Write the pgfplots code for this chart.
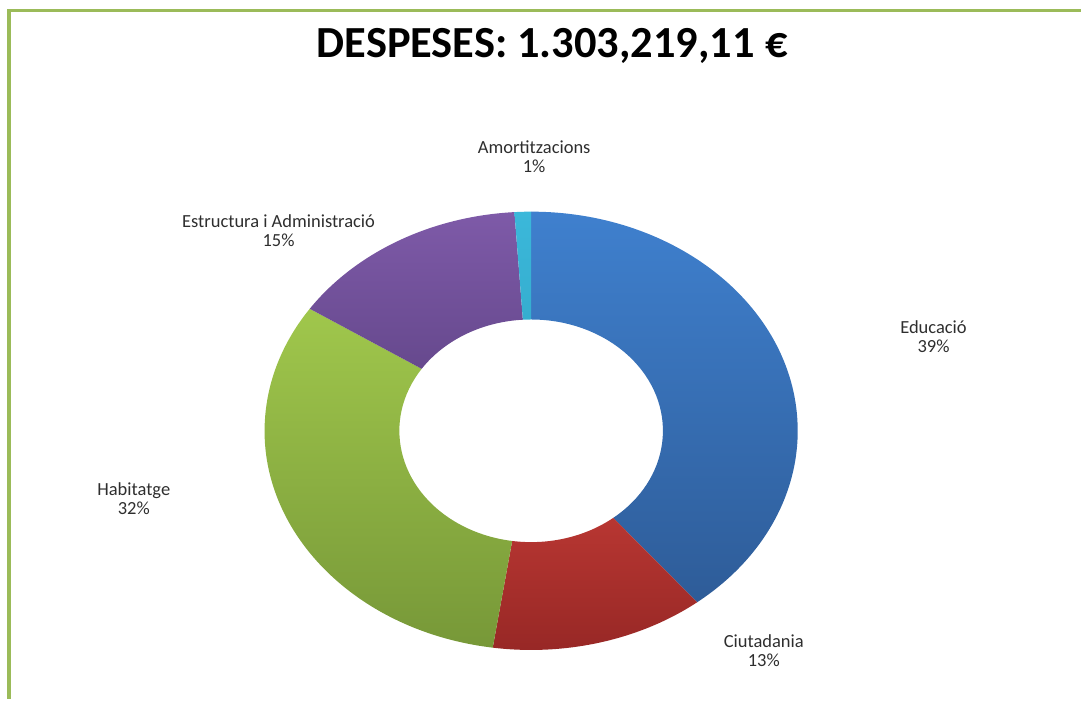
\documentclass[border=0pt]{standalone}
\usepackage{pgfplots}
\pgfplotsset{compat=1.18}
\usepackage{pgfplotstable}
\usepackage{fontspec}
\setmainfont{Carlito}

\definecolor{frame}{HTML}{9BBB59}
\definecolor{eduT}{HTML}{3F80CE}\definecolor{eduB}{HTML}{2E5C98}
\definecolor{ciuT}{HTML}{CD403A}\definecolor{ciuB}{HTML}{962725}
\definecolor{habT}{HTML}{A0C74C}\definecolor{habB}{HTML}{779838}
\definecolor{estT}{HTML}{7E5AA8}\definecolor{estB}{HTML}{5D4283}
\definecolor{amoT}{HTML}{3BB8DA}\definecolor{amoB}{HTML}{2FA3C4}

% share of each item, in percent (clockwise from the top)
\pgfplotstableread{
item value
Educacio 39.3
Ciutadania 13.0
Habitatge 32.1
Estructura 14.6
Amortitzacions 1.0
}\despeses

\pgfmathsetmacro\aA{90}
\pgfplotstablegetelem{0}{value}\of\despeses \pgfmathsetmacro\aB{\aA-3.6*\pgfplotsretval}
\pgfplotstablegetelem{1}{value}\of\despeses \pgfmathsetmacro\aC{\aB-3.6*\pgfplotsretval}
\pgfplotstablegetelem{2}{value}\of\despeses \pgfmathsetmacro\aD{\aC-3.6*\pgfplotsretval}
\pgfplotstablegetelem{3}{value}\of\despeses \pgfmathsetmacro\aE{\aD-3.6*\pgfplotsretval}
\pgfplotstablegetelem{4}{value}\of\despeses \pgfmathsetmacro\aF{\aE-3.6*\pgfplotsretval}

% one ring slice from angle #1 down to angle #2
\newcommand\slice[4]{%
  \shade[top color=#3, bottom color=#4]
    (axis cs:532,431.5) ++(#1:267pt and 219.5pt)
    arc[start angle=#1, end angle=#2, x radius=267pt, y radius=219.5pt]
    -- ([shift={(#2:132pt and 111.5pt)}]axis cs:532,431.5)
    arc[start angle=#2, end angle=#1, x radius=132pt, y radius=111.5pt]
    -- cycle;}

\begin{document}
\begin{tikzpicture}[lbl/.style={font=\fontsize{18.5}{19}\selectfont, align=center, text=black!82}]
\begin{axis}[
  width=1083pt, height=700pt, scale only axis,
  xmin=0, xmax=1083, ymin=0, ymax=700, y dir=reverse,
  hide axis, clip=false,
]
\path (rel axis cs:0,0) rectangle (rel axis cs:1,1);
\draw[frame, line width=3.5pt] (axis cs:9,700) -- (axis cs:9,10.5) -- (axis cs:1083,10.5);

\slice{\aA}{\aB}{eduT}{eduB}
\slice{\aB}{\aC}{ciuT}{ciuB}
\slice{\aC}{\aD}{habT}{habB}
\slice{\aD}{\aE}{estT}{estB}
\slice{\aE}{\aF}{amoT}{amoB}

\node[font=\bfseries\fontsize{44.5}{48}\selectfont] at (axis cs:553,46) {DESPESES: 1.303,219,11 €};

\node[lbl] at (axis cs:535,157) {Amortitzacions\\1\%};
\node[lbl] at (axis cs:279,231) {Estructura i Administració\\15\%};
\node[lbl] at (axis cs:935,337) {Educació\\39\%};
\node[lbl] at (axis cs:134,499) {Habitatge\\32\%};
\node[lbl] at (axis cs:765,652) {Ciutadania\\13\%};
\end{axis}
\end{tikzpicture}
\end{document}
